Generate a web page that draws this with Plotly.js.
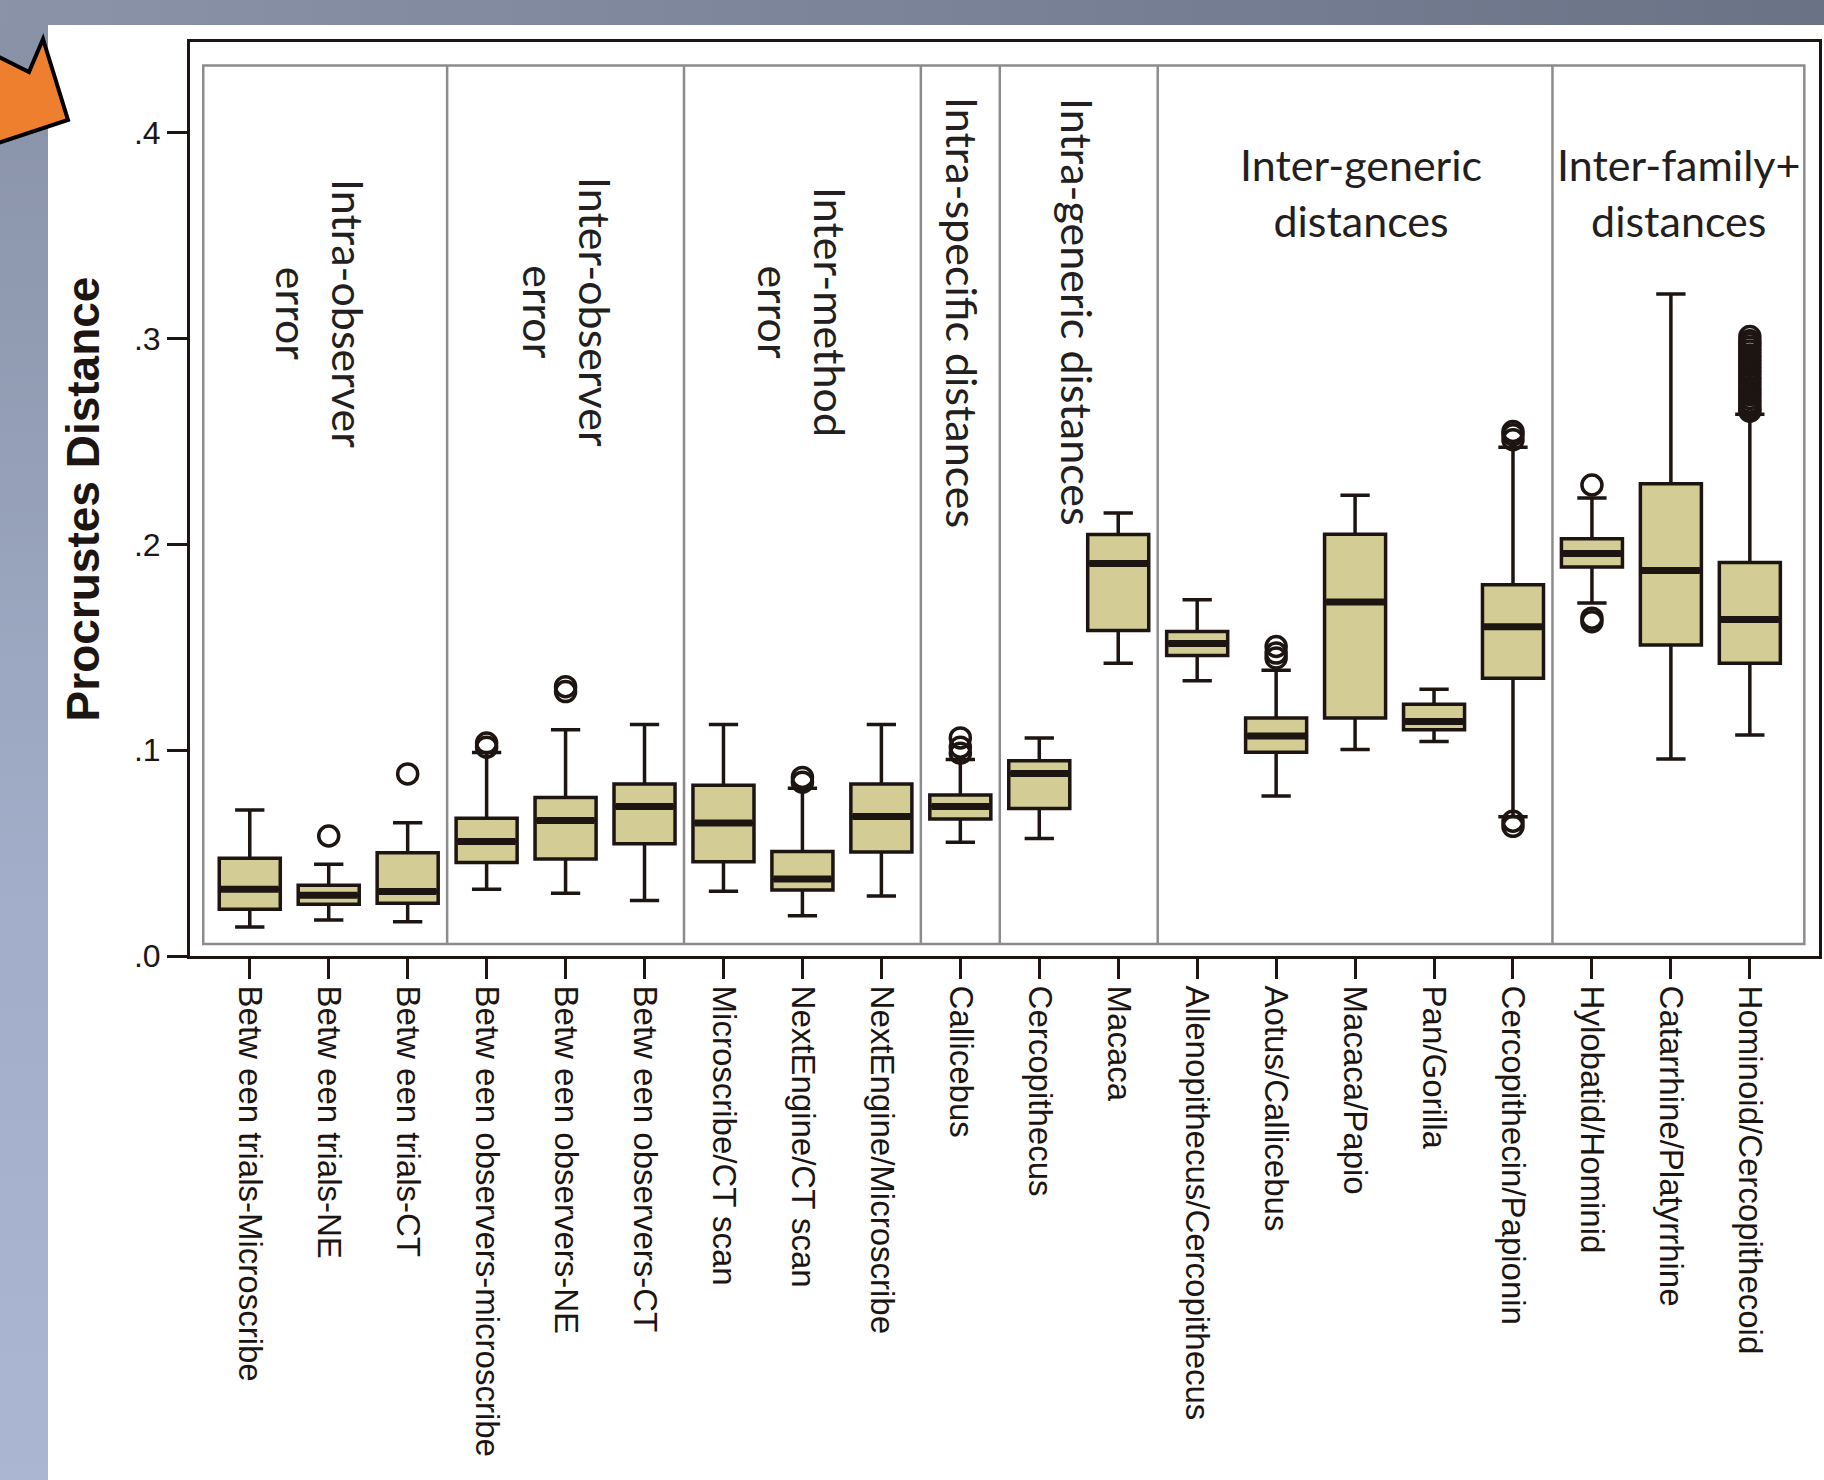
<!DOCTYPE html>
<html>
<head>
<meta charset="utf-8">
<script src="https://cdn.plot.ly/plotly-3.0.1.min.js"></script>
<style>
  html, body { margin: 0; padding: 0; }
  body { width: 1824px; height: 1480px; position: relative; overflow: hidden; }
  #bg { position: absolute; left: 0; top: 0; width: 1824px; height: 1480px;
        background: linear-gradient(to bottom, #8790a5 0%, #a2aec9 60%, #abb7d2 100%); }
  #topband { position: absolute; left: 0; top: 0; width: 1824px; height: 25px;
        background: linear-gradient(to right, #8a93a8 0%, #7a8398 50%, #6a7286 100%); }
  #panel { position: absolute; left: 48px; top: 25px; width: 1776px; height: 1455px; background: #ffffff; }
  #chart { position: absolute; left: 0; top: 0; width: 1824px; height: 1480px; }
</style>
</head>
<body>
<div id="bg"></div>
<div id="topband"></div>
<div id="panel"></div>
<div id="chart"></div>
<script>
// ---------------- data ----------------
const categories = [
  "Betw een trials-Microscribe", "Betw een trials-NE", "Betw een trials-CT",
  "Betw een observers-microscribe", "Betw een observers-NE", "Betw een observers-CT",
  "Microscribe/CT scan", "NextEngine/CT scan", "NextEngine/Microscribe",
  "Callicebus", "Cercopithecus", "Macaca",
  "Allenopithecus/Cercopithecus", "Aotus/Callicebus", "Macaca/Papio", "Pan/Gorilla",
  "Cercopithecin/Papionin", "Hylobatid/Hominid", "Catarrhine/Platyrrhine", "Hominoid/Cercopithecoid"
];
const lowerWhisker = [0.0141, 0.0175, 0.0167, 0.0324, 0.0305, 0.0270, 0.0315, 0.0196, 0.0292, 0.0553,
                      0.0571, 0.1423, 0.1338, 0.0777, 0.1003, 0.1043, 0.0677, 0.1715, 0.0957, 0.1074];
const q1Values     = [0.0227, 0.0251, 0.0256, 0.0454, 0.0472, 0.0545, 0.0458, 0.0321, 0.0506, 0.0666,
                      0.0717, 0.1582, 0.1460, 0.0990, 0.1157, 0.1099, 0.1350, 0.1890, 0.1512, 0.1423];
const medianValues = [0.0324, 0.0295, 0.0314, 0.0556, 0.0658, 0.0726, 0.0646, 0.0374, 0.0678, 0.0726,
                      0.0887, 0.1907, 0.1519, 0.1069, 0.1721, 0.1140, 0.1600, 0.1956, 0.1873, 0.1635];
const q3Values     = [0.0475, 0.0344, 0.0502, 0.0669, 0.0770, 0.0836, 0.0830, 0.0508, 0.0836, 0.0783,
                      0.0949, 0.2048, 0.1577, 0.1157, 0.2050, 0.1223, 0.1804, 0.2028, 0.2295, 0.1913];
const upperWhisker = [0.0710, 0.0446, 0.0648, 0.0989, 0.1099, 0.1125, 0.1125, 0.0815, 0.1125, 0.0955,
                      0.1060, 0.2153, 0.1731, 0.1389, 0.2239, 0.1297, 0.2472, 0.2226, 0.3217, 0.2633];

// outliers: category index and value
const outlierIndex = [1, 2, 3, 3, 4, 4, 7, 7, 9, 9, 9, 13, 13, 13,
                      16, 16, 16, 16, 16, 17, 17, 17,
                      19, 19, 19, 19, 19, 19, 19, 19, 19, 19, 19, 19, 19, 19, 19, 19, 19, 19, 19, 19, 19, 19];
const outlierValue = [0.0583, 0.0885, 0.1035, 0.1015, 0.1309, 0.1285, 0.0868, 0.0845, 0.1060, 0.1015, 0.0985,
                      0.1504, 0.1472, 0.1448,
                      0.2549, 0.2533, 0.2509, 0.0655, 0.0630, 0.2289, 0.1642, 0.1625,
                      0.3011, 0.2990, 0.2975, 0.2958, 0.2940, 0.2921, 0.2905, 0.2887, 0.2870, 0.2852, 0.2833,
                      0.2815, 0.2798, 0.2781, 0.2762, 0.2745, 0.2728, 0.2710, 0.2692, 0.2675, 0.2660, 0.2648];

const groupLabels = [
  "Intra-observer<br>error", "Inter-observer<br>error", "Inter-method<br>error",
  "Intra-specific distances", "Intra-generic distances",
  "Inter-generic<br>distances", "Inter-family+<br>distances"
];
const groupBoundaries = [2.5, 5.5, 8.5, 9.5, 11.5, 16.5];

const yTickValues = [0, 0.1, 0.2, 0.3, 0.4];
const yTickText = [".0", ".1", ".2", ".3", ".4"];
const yTitle = "Procrustes Distance";

// ---------------- layout helpers ----------------
const ML = 190, MT = 42, PW = 1629, PH = 914;      // plot area in px
const px = x => (x - ML) / PW;                       // px -> paper x
const py = y => (MT + PH - y) / PH;                  // px -> paper y
const ink = "#1c1512";
const boxW = 0.773;
const idx = categories.map((_, i) => i);

// ---------------- traces ----------------
const boxTrace = {
  type: "box",
  x: idx,
  q1: q1Values, median: medianValues, q3: q3Values,
  lowerfence: lowerWhisker, upperfence: upperWhisker,
  width: boxW,
  whiskerwidth: 0.48,
  boxpoints: false,
  fillcolor: "#d3cc95",
  line: { color: ink, width: 3.5 },
  showlegend: false,
  hoverinfo: "skip"
};

const medX = [], medY = [];
idx.forEach(i => { medX.push(i - boxW / 2 + 0.02, i + boxW / 2 - 0.02, null); medY.push(medianValues[i], medianValues[i], null); });
const medianTrace = {
  type: "scatter", mode: "lines", x: medX, y: medY,
  line: { color: ink, width: 7 }, showlegend: false, hoverinfo: "skip"
};

const outlierTrace = {
  type: "scatter", mode: "markers", x: outlierIndex, y: outlierValue,
  marker: { symbol: "circle-open", size: 20, color: ink, line: { width: 3.5, color: ink } },
  showlegend: false, hoverinfo: "skip"
};

// ---------------- shapes ----------------
const shapes = [];
// inner grey frame
shapes.push({ type: "rect", xref: "x", yref: "y", x0: -0.589, x1: 19.69, y0: 0.0058, y1: 0.4328,
              line: { color: "#8c8c8c", width: 2.5 }, fillcolor: "rgba(0,0,0,0)", layer: "below" });
groupBoundaries.forEach(b => shapes.push({
  type: "line", xref: "x", yref: "y", x0: b, x1: b, y0: 0.0058, y1: 0.4328,
  line: { color: "#8c8c8c", width: 2.5 }, layer: "below" }));
// orange arrow in the corner
const arrowPts = [[-5, 55], [29, 72], [43, 39], [68, 120], [-5, 144]];
shapes.push({
  type: "path", xref: "paper", yref: "paper",
  path: "M " + arrowPts.map(p => px(p[0]) + "," + py(p[1])).join(" L ") + " Z",
  fillcolor: "#ee7f2f", line: { color: "#000000", width: 4 }, layer: "above"
});

// ---------------- annotations ----------------
const labelFont = { family: "Lato, 'Open Sans', sans-serif", size: 43, color: "#231f20" };
const groupPos = [
  [320, 313, 90], [568, 312, 90], [803, 312, 90], [963, 312, 90], [1078, 312, 90],
  [1361, 193, 0], [1678, 193, 0]
];
const annotations = groupLabels.map((t, i) => ({
  text: t, xref: "paper", yref: "paper",
  x: px(groupPos[i][0]), y: py(groupPos[i][1]),
  xanchor: "center", yanchor: "middle", textangle: groupPos[i][2],
  showarrow: false, font: labelFont, align: "center"
}));

const layout = {
  width: 1824, height: 1480,
  margin: { l: ML, r: 1824 - ML - PW, t: MT, b: 1480 - MT - PH, pad: 0 },
  paper_bgcolor: "rgba(0,0,0,0)",
  plot_bgcolor: "rgba(0,0,0,0)",
  showlegend: false,
  hovermode: false,
  xaxis: {
    range: [-0.757, 19.876], tickmode: "array", tickvals: idx, ticktext: categories,
    tickangle: 90, ticks: "outside", ticklen: 20, tickwidth: 3, tickcolor: ink,
    showline: true, linewidth: 3, linecolor: ink, mirror: true,
    showgrid: false, zeroline: false, automargin: false,
    tickfont: { family: "'Liberation Sans', Arial, sans-serif", size: 33, color: ink }
  },
  yaxis: {
    range: [0, 0.4442], tickmode: "array", tickvals: yTickValues, ticktext: yTickText,
    ticks: "outside", ticklen: 20, tickwidth: 3, tickcolor: ink,
    showline: true, linewidth: 3, linecolor: ink, mirror: true,
    showgrid: false, zeroline: false, automargin: false,
    tickfont: { family: "'Liberation Sans', Arial, sans-serif", size: 32, color: ink },
    title: { text: yTitle, standoff: 20,
             font: { family: "'Liberation Sans', Arial, sans-serif", size: 46, color: ink, weight: "bold" } }
  },
  shapes: shapes,
  annotations: annotations
};

Plotly.newPlot("chart", [boxTrace, medianTrace, outlierTrace], layout, { staticPlot: true, displayModeBar: false });
</script>
</body>
</html>
